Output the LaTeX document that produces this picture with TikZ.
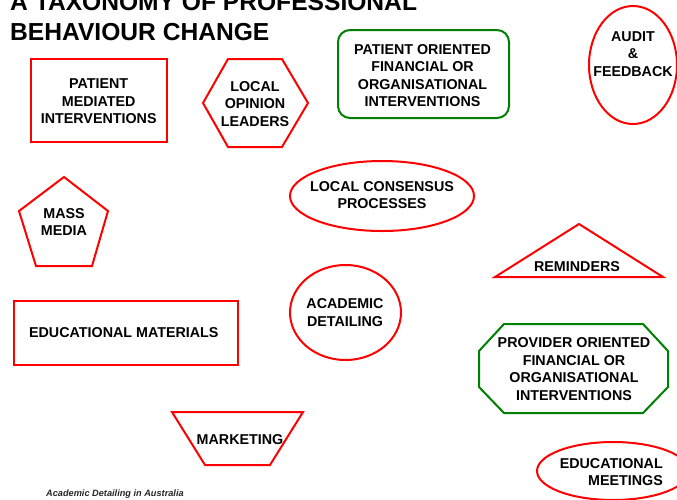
\documentclass[tikz,border=0pt]{standalone}
\usepackage{fontspec}
\setmainfont{Liberation Sans}
\begin{document}
\begin{tikzpicture}[x=1pt,y=-1pt,
  redline/.style={draw=red, line width=2pt, line join=miter},
  greenline/.style={draw=green!50!black, line width=2pt, line join=miter},
  lbl/.style={font=\fontsize{14.3}{17.5}\selectfont\bfseries, align=center, inner sep=0pt, text=black},
  ttl/.style={font=\fontsize{24.6}{30}\selectfont\bfseries, inner sep=0pt, anchor=base west, text=black},
  foot/.style={font=\fontsize{9.2}{11}\selectfont\bfseries\itshape, inner sep=0pt, anchor=base west, text=black!85}
]
\useasboundingbox (0,0) rectangle (677,499);
\clip (0,0) rectangle (677,499);

% title
\node[ttl] (title1) at (10,10) {A TAXONOMY OF PROFESSIONAL};
\node[ttl] (title2) at (10,40) {BEHAVIOUR CHANGE};

% shapes
\draw[redline] (31,59) rectangle (167,142);
\draw[redline] (203,103) -- (228,59) -- (282,59) -- (308,103) -- (282,147) -- (228,147) -- cycle;
\draw[greenline, rounded corners=12pt] (338,30) rectangle (509,118);
\draw[redline] (633,65) ellipse [x radius=44, y radius=59];
\draw[redline] (382,196) ellipse [x radius=92, y radius=35];
\draw[redline] (64,177) -- (108,211) -- (92,266) -- (36,266) -- (19,211) -- cycle;
\draw[redline] (14,301) rectangle (238,365);
\draw[redline] (345.5,312.5) ellipse [x radius=55.5, y radius=47.5];
\draw[redline] (579,224) -- (663,277) -- (495,277) -- cycle;
\draw[greenline] (504,324) -- (643,324) -- (668,351) -- (668,387) -- (643,413) -- (504,413) -- (479,387) -- (479,351) -- cycle;
\draw[redline] (613,471) ellipse [x radius=76, y radius=29];
\draw[redline] (172,412) -- (303,412) -- (270,465) -- (205,465) -- cycle;

% labels
\node[lbl] (pm) at (98.7,101.3) {PATIENT\\MEDIATED\\INTERVENTIONS};
\node[lbl] (lol) at (255,103.8) {LOCAL\\OPINION\\LEADERS};
\node[lbl] (po) at (422.5,75.7) {PATIENT ORIENTED\\FINANCIAL OR\\ORGANISATIONAL\\INTERVENTIONS};
\node[lbl] (af) at (633,53.8) {AUDIT\\\&\\FEEDBACK};
\node[lbl] (lc) at (382,195.3) {LOCAL CONSENSUS\\PROCESSES};
\node[lbl] (mm) at (64,222) {MASS\\MEDIA};
\node[lbl] (em) at (123.8,333) {EDUCATIONAL MATERIALS};
\node[lbl] (ad) at (345,312.7) {ACADEMIC\\DETAILING};
\node[lbl] (rem) at (577,267) {REMINDERS};
\node[lbl] (pro) at (574,369.2) {PROVIDER ORIENTED\\FINANCIAL OR\\ORGANISATIONAL\\INTERVENTIONS};
\node[lbl, align=right, anchor=east] (emt) at (663,472) {EDUCATIONAL\\MEETINGS};
\node[lbl] (mkt) at (240,440) {MARKETING};

% footer
\node[foot] (footer) at (46,496) {Academic Detailing in Australia};
\end{tikzpicture}
\end{document}
